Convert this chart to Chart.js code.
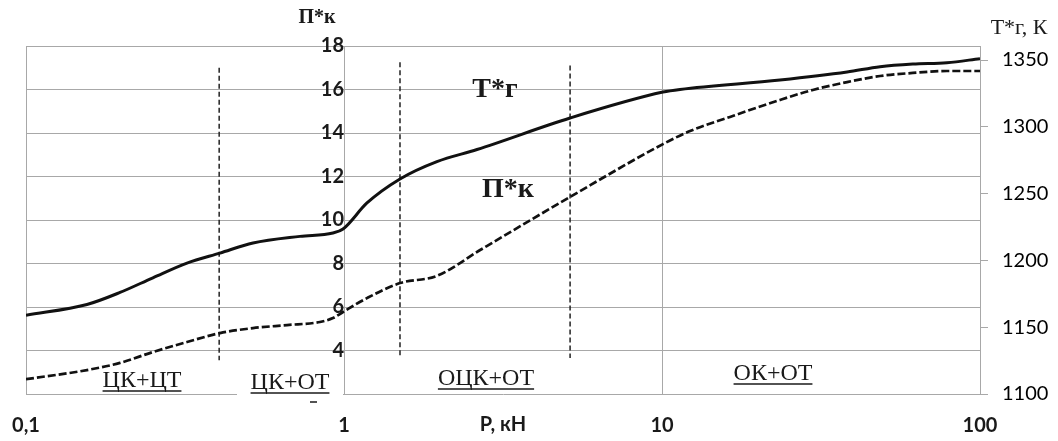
<!DOCTYPE html>
<html>
<head>
<meta charset="utf-8">
<script src="https://cdn.jsdelivr.net/npm/chart.js@4.4.1/dist/chart.umd.min.js"></script>
<style>
  body { margin: 0; background: #fff; }
  #wrap { width: 1058px; height: 441px; position: relative; }
</style>
</head>
<body>
<div id="wrap"><canvas id="grafico"></canvas></div>
<script>
// x = P, kN (log axis)
const xTicks = [0.1, 1, 10, 100]
const xTickLabels = ['0,1', '1', '10', '100']
const yLeftTicks = [4, 6, 8, 10, 12, 14, 16, 18]
const yRightTicks = [1100, 1150, 1200, 1250, 1300, 1350]

// T*г, K (right axis)
const tgP = [0.1, 0.1555, 0.1975, 0.2507, 0.3208, 0.4074, 0.5174, 0.727, 0.923, 0.993, 1.181, 1.5, 1.96, 2.62, 5.14, 10.07, 11.39, 23.5, 38.2, 48.5, 61.5, 78.7, 100]
const tgVal = [1159, 1167, 1176, 1187, 1198, 1205.5, 1213, 1218, 1220.5, 1223.5, 1243, 1261, 1274, 1283, 1306.6, 1326, 1328, 1335, 1341, 1345, 1347, 1348, 1351]

// П*к (left axis)
const pkP = [0.1, 0.1555, 0.1975, 0.2507, 0.3208, 0.4074, 0.5174, 0.662, 0.84, 0.923, 0.993, 1.181, 1.5, 1.96, 2.68, 5.14, 10.07, 12.25, 16.36, 23.5, 29.8, 38.2, 48.5, 61.5, 78.7, 100]
const pkVal = [2.68, 3.1, 3.43, 3.93, 4.39, 4.8, 5.03, 5.17, 5.31, 5.49, 5.77, 6.41, 7.1, 7.43, 8.62, 11.06, 13.49, 14.09, 14.74, 15.52, 15.98, 16.34, 16.62, 16.76, 16.85, 16.85]

// region dividers (dashed verticals)
const dividerP = [0.405, 1.5, 5.14]
const dividerTop = [17.0, 17.25, 17.1]
const dividerBottom = [3.55, 3.65, 3.65]

const gridColor = '#a8a8a8'
const textColor = '#1a1a1a'
const tickFont = { family: 'Lato', size: 20, weight: 'bold' }

const pares = (xs, ys) => xs.map((v, i) => ({ x: v, y: ys[i] }))

const datasets = [
  {
    data: pares(tgP, tgVal), yAxisID: 'y1',
    borderColor: '#111', borderWidth: 3, pointRadius: 0,
    cubicInterpolationMode: 'monotone'
  },
  {
    data: pares(pkP, pkVal), yAxisID: 'y',
    borderColor: '#111', borderWidth: 2.7, borderDash: [8, 3], pointRadius: 0,
    cubicInterpolationMode: 'monotone'
  }
]
dividerP.forEach((p, i) => {
  datasets.push({
    data: [{ x: p, y: dividerTop[i] }, { x: p, y: dividerBottom[i] }], yAxisID: 'y',
    borderColor: '#222', borderWidth: 1.5, borderDash: [5, 3], pointRadius: 0, tension: 0
  })
})

// texts on the plot
const rotulos = {
  id: 'rotulos',
  afterDraw(chart) {
    const c = chart.ctx
    c.save()
    // gap in the bottom border under "ЦК+ОТ"
    c.fillStyle = '#fff'
    c.fillRect(237, 389, 106, 10)
    c.fillStyle = textColor
    c.textAlign = 'center'
    c.textBaseline = 'middle'

    c.font = 'bold 28px "Liberation Serif"'
    c.fillText('Т*г', 495, 90)
    c.fillText('П*к', 508, 190)

    c.font = 'bold 20px "Liberation Serif"'
    c.fillText('П*к', 317, 18)
    c.font = '22px "Liberation Serif"'
    c.fillText('Т*г, К', 1019, 28)

    const regioes = [['ЦК+ЦТ', 142, 381], ['ЦК+ОТ', 290, 383], ['ОЦК+ОТ', 486, 379], ['ОК+ОТ', 773, 374]]
    c.font = '24px "Liberation Serif"'
    c.strokeStyle = textColor
    c.lineWidth = 1.5
    regioes.forEach(([t, x, y]) => {
      c.fillText(t, x, y)
      const w = c.measureText(t).width
      c.beginPath()
      c.moveTo(x - w / 2, y + 10)
      c.lineTo(x + w / 2, y + 10)
      c.stroke()
    })
    c.beginPath()
    c.moveTo(310, 402)
    c.lineTo(317, 402)
    c.stroke()
    c.restore()
  }
}

new Chart(document.getElementById('grafico'), {
  type: 'line',
  data: { datasets },
  options: {
    responsive: true,
    maintainAspectRatio: false,
    animation: false,
    layout: { padding: { top: 46, left: 26, right: 0, bottom: 0 } },
    plugins: { legend: { display: false }, tooltip: { enabled: false } },
    scales: {
      x: {
        type: 'logarithmic', min: 0.1, max: 100, position: 'bottom',
        afterBuildTicks: s => { s.ticks = xTicks.map(v => ({ value: v })) },
        afterFit: s => { s.height = 47 },
        ticks: {
          callback: (v, i) => xTickLabels[i],
          font: tickFont, color: textColor, padding: 2, maxRotation: 0, autoSkip: false
        },
        grid: { color: gridColor, drawTicks: true, tickLength: 18, tickColor: 'rgba(0,0,0,0)' },
        border: { color: gridColor },
        title: {
          display: true, text: 'P, кН', color: textColor,
          font: tickFont, padding: { top: 0, bottom: 4 }
        }
      },
      y: {
        position: { x: 1 }, min: 2, max: 18,
        afterBuildTicks: s => { s.ticks = yLeftTicks.map(v => ({ value: v })) },
        ticks: { font: tickFont, color: textColor, padding: 22 },
        grid: { color: gridColor, drawTicks: false },
        border: { color: gridColor }
      },
      y1: {
        position: 'right', min: 1100, max: 1360.5,
        afterBuildTicks: s => { s.ticks = yRightTicks.map(v => ({ value: v })) },
        afterFit: s => { s.width = 78 },
        ticks: {
          callback: v => String(v),
          font: { family: 'Lato', size: 20 }, color: '#000', padding: 14
        },
        grid: { drawOnChartArea: false, color: gridColor, tickLength: 8 },
        border: { color: gridColor }
      }
    }
  },
  plugins: [rotulos]
})
</script>
</body>
</html>
